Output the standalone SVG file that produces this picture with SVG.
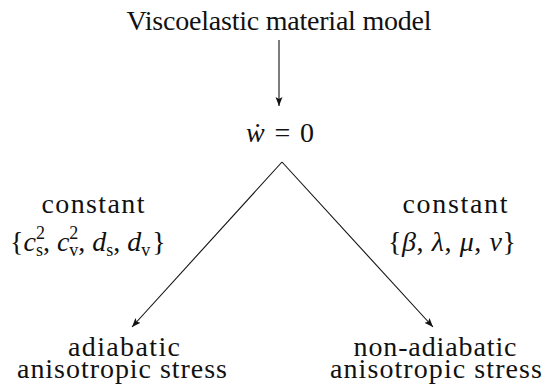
<svg xmlns="http://www.w3.org/2000/svg" width="551" height="385" viewBox="0 0 551 385">
<style>
text{fill:#111;font-size:28px;font-family:"Liberation Serif","Times New Roman",serif}
.m{text-anchor:middle}
.i{font-style:italic}
.s{font-size:18px;font-style:normal}
.c{stroke:#111;stroke-width:1.1;fill:none}
</style>
<defs>
<marker id="ah" markerWidth="10" markerHeight="8" refX="9" refY="4" orient="auto" markerUnits="userSpaceOnUse">
<path d="M0,0.5 L9,4 L0,7.5 L2,4 Z" fill="#111"/>
</marker>
</defs>
<rect width="551" height="385" fill="#fff"/>
<g id="connectors">
<line class="c" x1="279" y1="40" x2="279" y2="106" marker-end="url(#ah)"/>
<line class="c" x1="282" y1="162" x2="132" y2="327" marker-end="url(#ah)"/>
<line class="c" x1="282" y1="162" x2="433" y2="327" marker-end="url(#ah)"/>
</g>
<g id="title"><text class="m" x="279" y="30" textLength="305" lengthAdjust="spacing">Viscoelastic material model</text></g>
<g id="wdot"><text class="m" x="280" y="142" textLength="68" lengthAdjust="spacing"><tspan class="i">ẇ</tspan> = 0</text></g>
<g id="left-label">
<text class="m" x="93" y="213" textLength="103" lengthAdjust="spacing">constant</text>
<text x="10" y="251">{<tspan class="i">c</tspan><tspan class="s" dy="-12">2</tspan><tspan class="s" dx="-9" dy="17">s</tspan><tspan dy="-5">, </tspan><tspan class="i">c</tspan><tspan class="s" dy="-12">2</tspan><tspan class="s" dx="-9" dy="17">v</tspan><tspan dy="-5">, </tspan><tspan class="i">d</tspan><tspan class="s" dy="5">s</tspan><tspan dy="-5">, </tspan><tspan class="i">d</tspan><tspan class="s" dy="5">v</tspan><tspan dy="-5" dx="2">}</tspan></text>
</g>
<g id="right-label">
<text class="m" x="455" y="213" textLength="105" lengthAdjust="spacing">constant</text>
<text class="m" x="452" y="251" textLength="128" lengthAdjust="spacing">{<tspan class="i">β</tspan>, <tspan class="i">λ</tspan>, <tspan class="i">μ</tspan>, <tspan class="i">ν</tspan>}</text>
</g>
<g id="adiabatic">
<text class="m" x="124" y="356" textLength="112" lengthAdjust="spacing">adiabatic</text>
<text class="m" x="122" y="378" textLength="210" lengthAdjust="spacing">anisotropic stress</text>
</g>
<g id="non-adiabatic">
<text class="m" x="435" y="356" textLength="163" lengthAdjust="spacing">non-adiabatic</text>
<text class="m" x="436" y="378" textLength="212" lengthAdjust="spacing">anisotropic stress</text>
</g>
</svg>
